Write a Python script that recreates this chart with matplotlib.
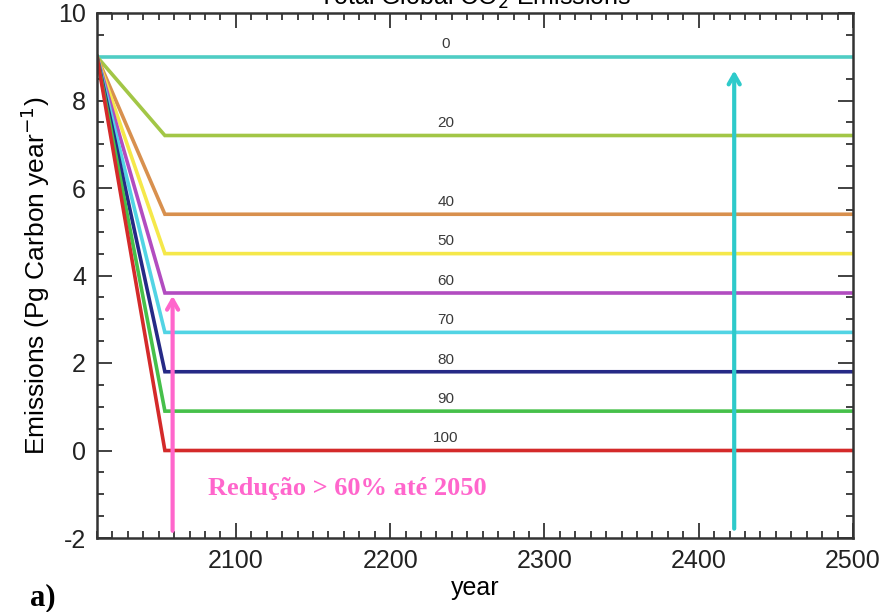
import matplotlib
matplotlib.use('Agg')
import matplotlib.pyplot as plt
from matplotlib.ticker import MultipleLocator

# reduction scenarios (% below today's emissions) and their end levels
reductions = ['0', '20', '40', '50', '60', '70', '80', '90', '100']
levels = [9.0, 7.2, 5.4, 4.5, 3.6, 2.7, 1.8, 0.9, 0.0]
colors = ['#4fcdc4', '#a2c646', '#d8904e', '#f5e84a', '#b24cc0',
          '#52d4e4', '#262a86', '#46c04a', '#d42a2a']
start_year = 2010
start_value = 9.0
kink_year = 2054
end_year = 2500

# arrows: (x, y from, y to)
pink_arrow = (2059, -1.9, 3.6)
teal_arrow = (2423, -1.85, 8.75)

plt.rcParams['font.family'] = ['Liberation Sans', 'DejaVu Sans']
plt.rcParams['axes.unicode_minus'] = False

fig = plt.figure(figsize=(8.88, 6.12), dpi=100)
ax = fig.add_axes([97 / 888, 1 - 538 / 612, 756 / 888, 525 / 612])

for lab, lev, col in zip(reductions, levels, colors):
    ax.plot([start_year, kink_year, end_year], [start_value, lev, lev],
            color=col, lw=2.6, solid_joinstyle='miter')
    ax.text(2236, lev + 0.12, lab, ha='center', va='bottom',
            fontsize=11, color='#3a3a3a')

ax.set_xlim(start_year, end_year)
ax.set_ylim(-2, 10)
ax.xaxis.set_major_locator(MultipleLocator(100))
ax.xaxis.set_minor_locator(MultipleLocator(10))
ax.yaxis.set_major_locator(MultipleLocator(2))
ax.yaxis.set_minor_locator(MultipleLocator(0.5))
ax.tick_params(which='both', direction='in', top=True, right=True,
               color='#333333', width=1.3)
ax.tick_params(which='major', length=11, labelsize=18, pad=8, labelcolor='#222222')
ax.tick_params(which='minor', length=5)
for s in ax.spines.values():
    s.set_linewidth(1.8)
    s.set_color('#333333')

ax.set_ylabel('Emissions (Pg Carbon year$^{-1}$)', fontsize=19, labelpad=4)
ax.set_xlabel('year', fontsize=18, labelpad=2)

ax.annotate('', xy=(pink_arrow[0], pink_arrow[2]), xytext=(pink_arrow[0], pink_arrow[1]),
            arrowprops=dict(arrowstyle='->,head_length=0.7,head_width=0.4',
                            color='#ff66cc', lw=3))
ax.annotate('', xy=(teal_arrow[0], teal_arrow[2]), xytext=(teal_arrow[0], teal_arrow[1]),
            arrowprops=dict(arrowstyle='->,head_length=0.7,head_width=0.4',
                            color='#2ecaca', lw=3))

ax.text(2082, -0.87, 'Redução > 60% até 2050', fontsize=19, fontweight='bold',
        color='#ff66cc', family=['Liberation Serif', 'DejaVu Serif'], va='center')

fig.text(0.535, 1 - 5 / 612, 'Total Global CO$_2$ Emissions', ha='center',
         va='baseline', fontsize=18)
fig.text(30 / 888, 1 - 605 / 612, 'a)', fontsize=22, fontweight='bold',
         family=['Liberation Serif', 'DejaVu Serif'])

fig.savefig('out.png', dpi=100)
